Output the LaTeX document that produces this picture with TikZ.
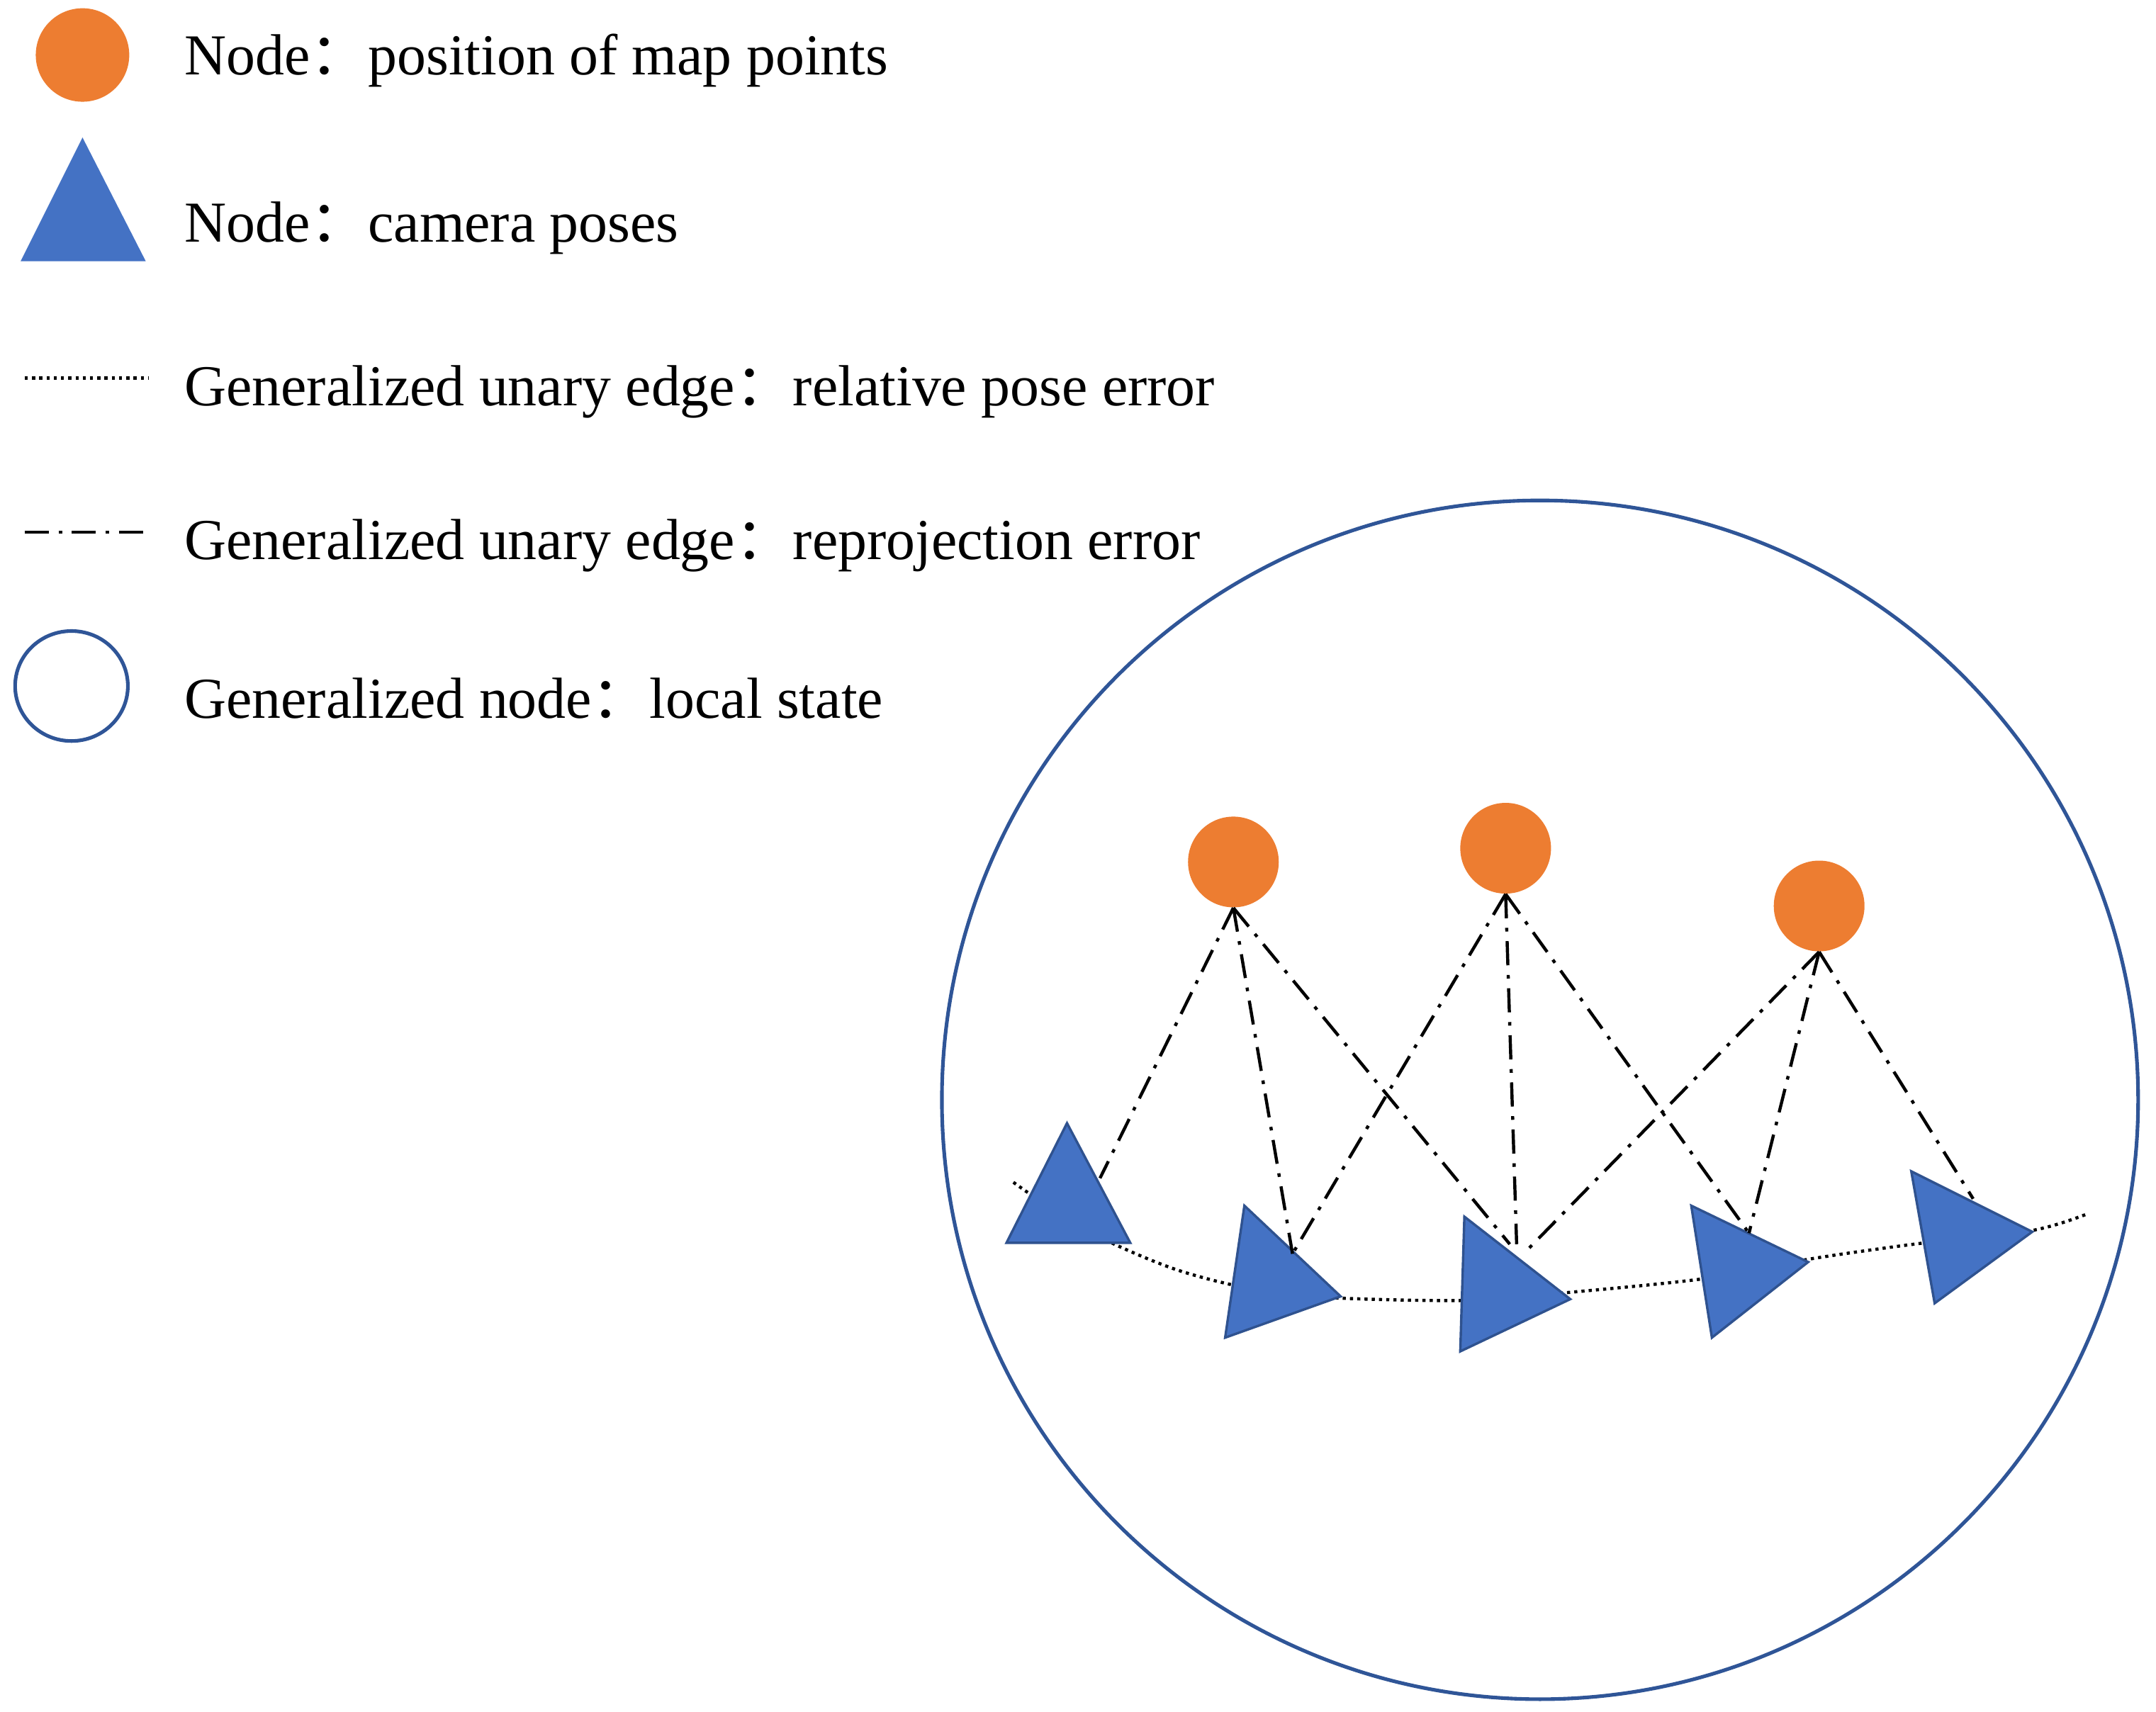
\documentclass[tikz,border=0pt]{standalone}
\usepackage{fontspec}
\setmainfont{Liberation Serif}
\newfontfamily\cjk{Noto Sans CJK SC}
\begin{document}
\begin{tikzpicture}[x=0.02cm,y=-0.02cm,
  orange/.style={circle,fill=orangeC,minimum size=1.32cm,inner sep=0},
  tri/.style={fill=blueC,draw=blueD,line width=1pt,line join=miter},
  lab/.style={anchor=west,font=\fontsize{24}{28}\selectfont},
  dd/.style={line width=1.3pt,dash pattern=on 10pt off 4pt on 1.5pt off 4pt},
  dt/.style={line width=1.3pt,dash pattern=on 1.3pt off 1.7pt}]
\definecolor{orangeC}{RGB}{237,125,49}
\definecolor{blueC}{RGB}{68,114,196}
\definecolor{blueD}{RGB}{47,82,143}
\definecolor{ringC}{RGB}{47,85,151}
\useasboundingbox (0,0) rectangle (1568,1245);
% legend
\node[orange,minimum size=1.36cm] (lo) at (60,40) {};
\fill[blueC] (60,100) -- (106,190) -- (15,190) -- cycle;
\coordinate (ld1) at (18,275); \coordinate (ld2) at (108,275);
\draw[dt] (ld1) -- (ld2);
\coordinate (ldd1) at (18,387); \coordinate (ldd2) at (108,387);
\draw[dd] (ldd1) -- (ldd2);
\draw[ringC,line width=1.5pt] (52,499) ellipse (41 and 40);
\node[lab] (t1) at (128,44) {Node{\cjk ：}position of map points};
\node[lab] (t2) at (128,166) {Node{\cjk ：}camera poses};
\node[lab] (t3) at (128,285) {Generalized unary edge{\cjk ：}relative pose error};
\node[lab] (t4) at (128,397) {Generalized unary edge{\cjk ：}reprojection error};
\node[lab] (t5) at (128,508) {Generalized node{\cjk ：}local state};
% big circle
\draw[ringC,line width=1.5pt] (1120,800) ellipse (435 and 436);
% dotted chain
\draw[dt] plot[smooth,tension=0.5] coordinates {(737,860) (790,895) (860,925) (940,942) (1062,946) (1142,940) (1240,930) (1315,916) (1392,905) (1478,895) (1518,883)};
% triangles
\draw[tri] (776,817) -- (822,904) -- (732,904) -- cycle;
\draw[tri] (905,877) -- (975,943) -- (891,973) -- cycle;
\draw[tri] (1065,885) -- (1142,945) -- (1062,983) -- cycle;
\draw[tri] (1230,877) -- (1315,918) -- (1245,973) -- cycle;
\draw[tri] (1390,852) -- (1478,896) -- (1407,948) -- cycle;
\coordinate (c1) at (800,857); \coordinate (c2) at (940,912);
\coordinate (c3a) at (1098,905); \coordinate (c3b) at (1103,905); \coordinate (c3c) at (1110,910);
\coordinate (c4) at (1272,897); \coordinate (c5) at (1435,872);
% orange map points
\node[orange] (m1) at (897,627) {};
\node[orange] (m2) at (1095,617) {};
\node[orange] (m3) at (1323,659) {};
\draw[dd] (m1.south) -- (c1); \draw[dd] (m1.south) -- (c2); \draw[dd] (m1.south) -- (c3a);
\draw[dd] (m2.south) -- (c2); \draw[dd] (m2.south) -- (c3b); \draw[dd] (m2.south) -- (c4);
\draw[dd] (m3.south) -- (c3c); \draw[dd] (m3.south) -- (c4); \draw[dd] (m3.south) -- (c5);
\end{tikzpicture}
\end{document}
